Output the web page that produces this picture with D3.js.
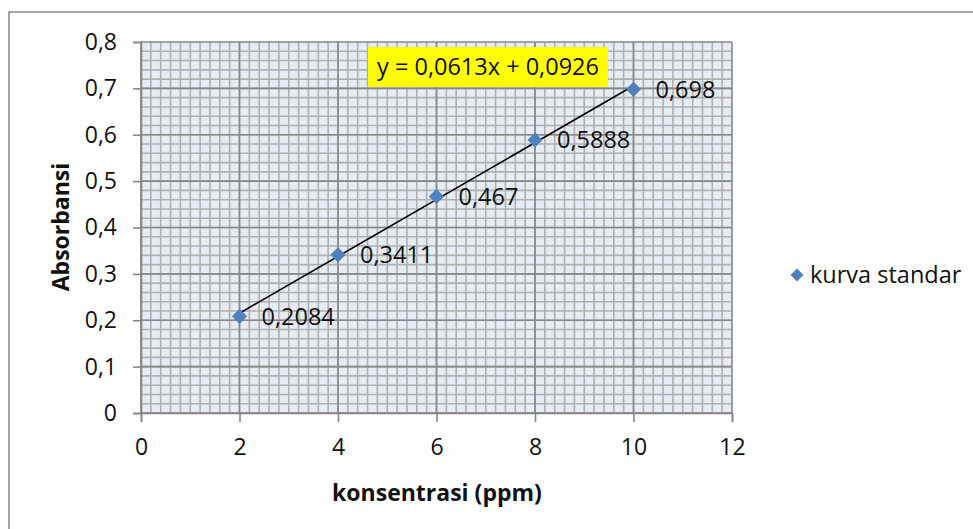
<!DOCTYPE html>
<html>
<head>
<meta charset="utf-8">
<script src="https://cdn.jsdelivr.net/npm/d3@7"></script>
<style>
    body { margin: 0; background: #fff; }
    text { font-family: "Open Sans", "Noto Sans", sans-serif; fill: #111; }
    .axis-title { font-weight: bold; font-size: 23px; }
    .tick-label { font-size: 23px; }
    .data-label { font-size: 23.5px; }
</style>
</head>
<body>
<div id="chart"></div>
<script>
const width = 973;
const height = 529;

const konsentrasi = [2, 4, 6, 8, 10];
const absorbansi = [0.2084, 0.3411, 0.467, 0.5888, 0.698];
const labels = ["0,2084", "0,3411", "0,467", "0,5888", "0,698"];
const xTicks = [0, 2, 4, 6, 8, 10, 12];
const yTicks = [0, 0.1, 0.2, 0.3, 0.4, 0.5, 0.6, 0.7, 0.8];
const slope = 0.0613;
const intercept = 0.0926;
const equation = "y = 0,0613x + 0,0926";
const seriesName = "kurva standar";

const plot = { left: 141, right: 732, top: 42, bottom: 413 };

const svg = d3.select("#chart")
    .append("svg")
    .attr("width", width)
    .attr("height", height);

// chart frame
svg.append("rect")
    .attr("x", 9)
    .attr("y", 12)
    .attr("width", width + 10)
    .attr("height", height + 10)
    .attr("fill", "#fff")
    .attr("stroke", "#878787")
    .attr("stroke-width", 1.5);

const xScale = d3.scaleLinear().domain([0, 12]).range([plot.left, plot.right]);
const yScale = d3.scaleLinear().domain([0, 0.8]).range([plot.bottom, plot.top]);

svg.append("rect")
    .attr("x", plot.left)
    .attr("y", plot.top)
    .attr("width", plot.right - plot.left)
    .attr("height", plot.bottom - plot.top)
    .attr("fill", "#e7ebf3");

// minor grid
const grid = svg.append("g");
grid.selectAll(".vminor")
    .data(d3.range(0, 60).map(i => i * 0.2))
    .join("line")
    .attr("x1", d => xScale(d)).attr("x2", d => xScale(d))
    .attr("y1", plot.top).attr("y2", plot.bottom)
    .attr("stroke", "#b0b0b0").attr("stroke-width", 1.6);
grid.selectAll(".hminor")
    .data(d3.range(0, 40).map(i => i * 0.02))
    .join("line")
    .attr("x1", plot.left).attr("x2", plot.right)
    .attr("y1", d => yScale(d)).attr("y2", d => yScale(d))
    .attr("stroke", "#b0b0b0").attr("stroke-width", 1.6);

// major grid
grid.selectAll(".vmajor")
    .data(xTicks)
    .join("line")
    .attr("x1", d => xScale(d)).attr("x2", d => xScale(d))
    .attr("y1", plot.top).attr("y2", plot.bottom)
    .attr("stroke", "#878787").attr("stroke-width", 1.6);
grid.selectAll(".hmajor")
    .data(yTicks)
    .join("line")
    .attr("x1", plot.left).attr("x2", plot.right)
    .attr("y1", d => yScale(d)).attr("y2", d => yScale(d))
    .attr("stroke", "#878787").attr("stroke-width", 1.6);

// axes
const fmt = d => d3.format("")(d).replace(".", ",");
const xAxis = svg.append("g")
    .attr("transform", `translate(0,${plot.bottom})`)
    .call(d3.axisBottom(xScale).tickValues(xTicks).tickSize(9).tickPadding(17).tickFormat(fmt));
const yAxis = svg.append("g")
    .attr("transform", `translate(${plot.left},0)`)
    .call(d3.axisLeft(yScale).tickValues(yTicks).tickSize(8).tickPadding(16).tickFormat(fmt));

[xAxis, yAxis].forEach(ax => {
    ax.select(".domain").attr("stroke", "#878787").attr("stroke-width", 1.6);
    ax.selectAll(".tick line").attr("stroke", "#878787").attr("stroke-width", 1.6);
    ax.selectAll(".tick text").attr("class", "tick-label").attr("fill", "#111");
});

// trendline
svg.append("line")
    .attr("x1", xScale(2))
    .attr("y1", yScale(slope * 2 + intercept))
    .attr("x2", xScale(10))
    .attr("y2", yScale(slope * 10 + intercept))
    .attr("stroke", "#000")
    .attr("stroke-width", 1.6);

// points
const diamond = d3.symbol().type(d3.symbolSquare).size(115);
svg.selectAll(".pt")
    .data(konsentrasi)
    .join("path")
    .attr("d", diamond)
    .attr("transform", (d, i) => `translate(${xScale(d)},${yScale(absorbansi[i])}) rotate(45)`)
    .attr("fill", "#4f81bd");

svg.selectAll(".lbl")
    .data(konsentrasi)
    .join("text")
    .attr("x", d => xScale(d) + 22)
    .attr("y", (d, i) => yScale(absorbansi[i]))
    .attr("dy", "0.35em")
    .attr("class", "data-label")
    .text((d, i) => labels[i]);

// equation label
svg.append("rect")
    .attr("x", 368)
    .attr("y", 47)
    .attr("width", 240)
    .attr("height", 40)
    .attr("fill", "#ffff00");
svg.append("text")
    .attr("x", 488)
    .attr("y", 67)
    .attr("dy", "0.35em")
    .attr("text-anchor", "middle")
    .attr("class", "data-label")
    .text(equation);

// axis titles
svg.append("text")
    .attr("class", "axis-title")
    .attr("text-anchor", "middle")
    .attr("transform", `translate(69,227) rotate(-90)`)
    .text("Absorbansi");
svg.append("text")
    .attr("class", "axis-title")
    .attr("text-anchor", "middle")
    .attr("x", 437)
    .attr("y", 501)
    .text("konsentrasi (ppm)");

// legend
const legend = svg.append("g")
    .attr("transform", "translate(797,275)");
legend.append("path")
    .attr("d", d3.symbol().type(d3.symbolSquare).size(85))
    .attr("transform", "rotate(45)")
    .attr("fill", "#4f81bd");
legend.append("text")
    .attr("x", 13)
    .attr("dy", "0.35em")
    .attr("class", "data-label")
    .text(seriesName);
</script>
</body>
</html>
